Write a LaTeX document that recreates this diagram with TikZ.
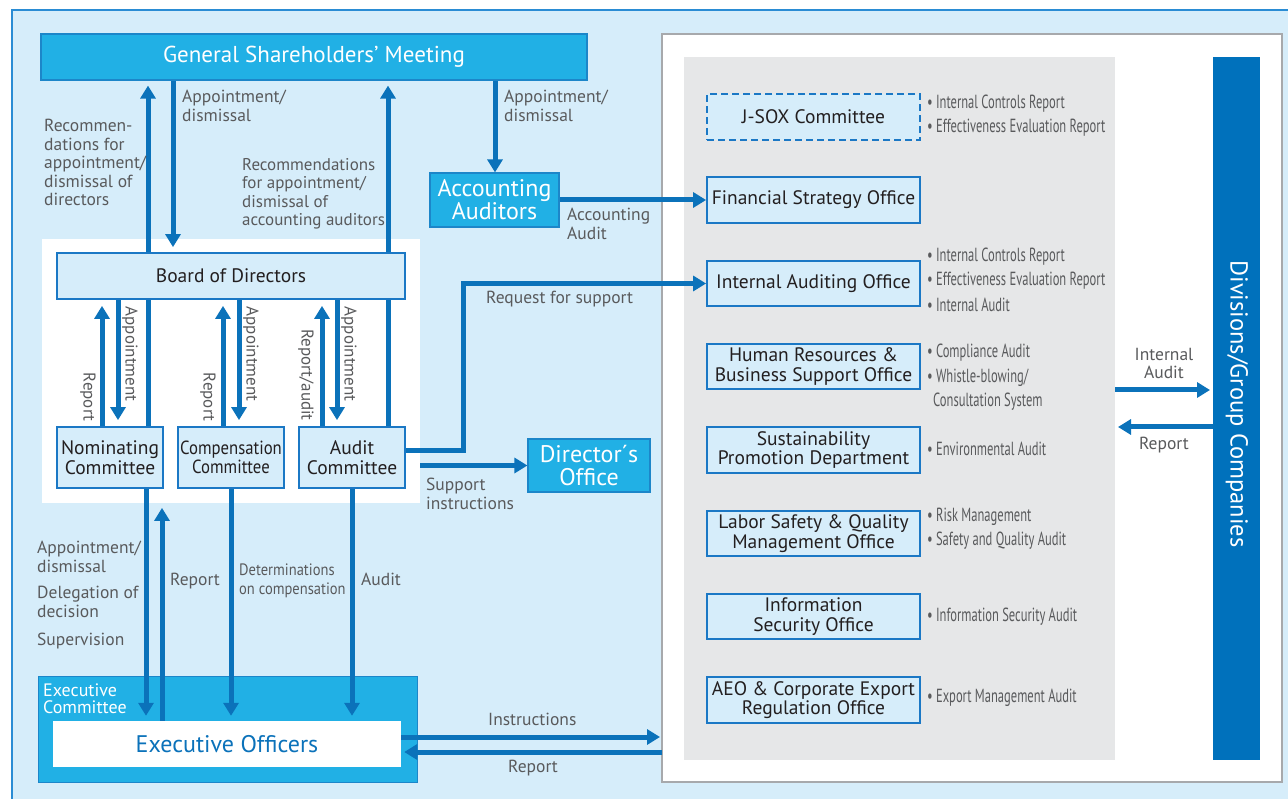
\documentclass[tikz,border=0pt]{standalone}
\usepackage{fontspec}
\setmainfont{PT Sans}
\newfontfamily\condfont[FakeStretch=0.66]{PT Sans}
\newfontfamily\semicond[FakeStretch=0.88]{PT Sans}
\usetikzlibrary{arrows.meta}
\definecolor{bgblue}{HTML}{D6EDFA}
\definecolor{frameblue}{HTML}{2A8CD4}
\definecolor{cyanblue}{HTML}{21B0E5}
\definecolor{cyanedge}{HTML}{1C86C9}
\definecolor{arrblue}{HTML}{0B72BA}
\definecolor{boxblue}{HTML}{1B78C5}
\definecolor{graypanel}{HTML}{E6E7E8}
\definecolor{paneledge}{HTML}{A7A9AC}
\definecolor{txtdark}{HTML}{231F20}
\definecolor{lblgray}{HTML}{595A5C}
\definecolor{divblue}{HTML}{0071BC}
\pgfdeclarelayer{bg}\pgfdeclarelayer{mid}\pgfsetlayers{bg,mid,main}
\tikzset{
  box/.style={draw=boxblue, line width=1.8pt, fill=bgblue, inner sep=0pt, align=center, text=txtdark, font=\fontsize{19.5}{19.5}\selectfont},
  cyanbox/.style={draw=cyanedge, line width=1.2pt, fill=cyanblue, inner sep=0pt, align=center, text=white, font=\fontsize{24}{23}\selectfont},
  arr/.style={draw=arrblue, line width=5pt, line join=miter, -{Triangle[width=15pt,length=13pt]}},
  lbl/.style={text=lblgray, font=\fontsize{17.5}{18.5}\selectfont, align=left, anchor=north west, inner sep=0pt},
  rlbl/.style={text=lblgray, font=\fontsize{17}{17}\selectfont, rotate=-90, inner sep=0pt},
  bul/.style={text=lblgray, font=\condfont\fontsize{19}{24}\selectfont, anchor=west, inner sep=0pt},
  panel/.style={inner sep=0pt, outer sep=0pt}
}
\begin{document}
\begin{tikzpicture}[x=1pt,y=-1pt]
\useasboundingbox (0,0) rectangle (1288,799);
\begin{pgfonlayer}{bg}
\begin{scope}
\clip (0,0) rectangle (1288,799);
\fill[bgblue] (12,10) rectangle (1300,810);
\draw[frameblue, line width=1.5pt] (12,810) -- (12,10) -- (1300,10);
\end{scope}
\node[panel, fill=white, minimum width=378pt, minimum height=264pt] (boardpanel) at (231,371) {};
\node[panel, fill=white, draw=paneledge, line width=1.5pt, minimum width=620pt, minimum height=748pt] (rp) at (972,408) {};
\node[panel, fill=graypanel, minimum width=431pt, minimum height=703pt] (gray) at (899.5,408.5) {};
\node[panel, fill=cyanblue, draw=cyanedge, line width=1pt, minimum width=379pt, minimum height=106pt] (excom) at (227.5,729) {};
\end{pgfonlayer}

% main boxes
\node[cyanbox, minimum width=546pt, minimum height=46pt, font=\fontsize{23}{22}\selectfont] (gsm) at (314,57) {General Shareholders’ Meeting};
\node[box, minimum width=348pt, minimum height=46pt] (board) at (231,276) {Board of Directors};
\node[box, minimum width=106pt, minimum height=61pt] (nom) at (110,457.5) {Nominating\\Committee};
\node[box, minimum width=106pt, minimum height=61pt, font=\semicond\fontsize{19}{19.5}\selectfont] (comp) at (231,457.5) {Compensation\\Committee};
\node[box, minimum width=106pt, minimum height=61pt] (aud) at (352,457.5) {Audit\\Committee};
\node[cyanbox, minimum width=129pt, minimum height=54pt] (acc) at (494.5,200) {Accounting\\Auditors};
\node[cyanbox, minimum width=122pt, minimum height=53pt] (dir) at (589,465.5) {Director´s\\Office};
\node[inner sep=0pt, fill=white, minimum width=348pt, minimum height=46pt, text=arrblue, font=\fontsize{24}{22}\selectfont] (exoff) at (227,744) {Executive Officers};
\node[text=white, font=\fontsize{18}{17}\selectfont, align=left, anchor=north west, inner sep=0pt] (exlbl) at (43,684) {Executive\\Committee};

\node[box, dashed, dash pattern=on 7pt off 4pt, minimum width=213pt, minimum height=46pt] (jsox) at (813.5,117) {J-SOX Committee};
\node[box, minimum width=213pt, minimum height=46pt] (fin) at (813.5,200) {Financial Strategy Office};
\node[box, minimum width=213pt, minimum height=45pt] (ia) at (813.5,283.5) {Internal Auditing Office};
\node[box, minimum width=213pt, minimum height=45pt] (hr) at (813.5,366.5) {Human Resources \&\\Business Support Office};
\node[box, minimum width=213pt, minimum height=46pt] (sus) at (813.5,450) {Sustainability\\Promotion Department};
\node[box, minimum width=213pt, minimum height=45pt] (lab) at (813.5,533.5) {Labor Safety \& Quality\\Management Office};
\node[box, minimum width=213pt, minimum height=45pt] (inf) at (813.5,616.5) {Information\\Security Office};
\node[box, minimum width=213pt, minimum height=46pt] (aeo) at (813.5,700) {AEO \& Corporate Export\\Regulation Office};
\node[panel, fill=divblue, minimum width=47pt, minimum height=703pt] (div) at (1236.5,408.5) {};
\node[rotate=-90, text=white, font=\fontsize{24.5}{24}\selectfont, inner sep=0pt] (divtxt) at (1237,404) {Divisions/Group Companies};

% bullets
\node[bul] (b1) at (927,104) {•\,Internal Controls Report};
\node[bul] (b2) at (927,128) {•\,Effectiveness Evaluation Report};
\node[bul] (b3) at (927,257) {•\,Internal Controls Report};
\node[bul] (b4) at (927,281) {•\,Effectiveness Evaluation Report};
\node[bul] (b5) at (927,305) {•\,Internal Audit};
\node[bul] (b6) at (927,353) {•\,Compliance Audit};
\node[bul] (b7) at (927,378) {•\,Whistle-blowing/};
\node[bul] (b8) at (933,402) {Consultation System};
\node[bul] (b9) at (927,449) {•\,Environmental Audit};
\node[bul] (b10) at (927,517) {•\,Risk Management};
\node[bul] (b11) at (927,541) {•\,Safety and Quality Audit};
\node[bul] (b12) at (927,617) {•\,Information Security Audit};
\node[bul] (b13) at (927,698) {•\,Export Management Audit};

% labels
\node[lbl] (l1) at (182,90) {Appointment/\\dismissal};
\node[lbl] (l2) at (44,119) {Recommen-\\dations for\\appointment/\\dismissal of\\directors};
\node[lbl, font=\fontsize{17}{18.5}\selectfont] (l3) at (242,158) {Recommendations\\for appointment/\\dismissal of\\accounting auditors};
\node[lbl] (l4) at (504,90) {Appointment/\\dismissal};
\node[lbl] (l5) at (567,208) {Accounting\\Audit};
\node[lbl] (l6) at (486,291) {Request for support};
\node[lbl] (l7) at (426,478) {Support\\instructions};
\node[lbl] (l8) at (37,541) {Appointment/\\dismissal};
\node[lbl] (l9) at (37,586) {Delegation of\\decision};
\node[lbl] (l10) at (37,633) {Supervision};
\node[lbl] (l11) at (170,573) {Report};
\node[lbl, font=\semicond\fontsize{16.5}{18.5}\selectfont] (l12) at (239,564) {Determinations\\on compensation};
\node[lbl] (l13) at (361,573) {Audit};
\node[lbl] (l14) at (488,713) {Instructions};
\node[lbl] (l15) at (508,760) {Report};
\node[lbl, anchor=north, align=center] (l16) at (1164,348) {Internal\\Audit};
\node[lbl, anchor=north] (l17) at (1164,437) {Report};
\node[rlbl] (r1) at (88,397) {Report};
\node[rlbl] (r2) at (130,354) {Appointment};
\node[rlbl] (r3) at (208,397) {Report};
\node[rlbl] (r4) at (251,354) {Appointment};
\node[rlbl] (r5) at (306,375) {Report/audit};
\node[rlbl] (r6) at (349,354) {Appointment};

% column coordinates
\coordinate (cA) at (148,0);
\coordinate (cB) at (173,0);
\coordinate (cC) at (388,0);
\coordinate (cD) at (495,0);
\coordinate (n1) at (102,0);
\coordinate (n2) at (118,0);
\coordinate (p1) at (223,0);
\coordinate (p2) at (239,0);
\coordinate (a1) at (322,0);
\coordinate (a2) at (337,0);
\coordinate (e1) at (146,0);
\coordinate (e2) at (162,0);
\coordinate (e3) at (231,0);
\coordinate (e4) at (352,0);
\coordinate (rq) at (463,0);
\coordinate (ya) at (0,390);
\coordinate (yr) at (0,427);
\coordinate (audout) at ([yshift=7pt]aud.east);
\coordinate (insout) at ([yshift=7pt]exoff.east);
\coordinate (repin) at ([yshift=-8pt]exoff.east);

\begin{pgfonlayer}{mid}
\draw[arr, shorten >=5pt] (cA |- nom.north) -- (cA |- gsm.south);
\draw[arr, shorten >=5pt] (cB |- gsm.south) -- (cB |- board.north);
\draw[arr, shorten >=5pt] (cC |- aud.north) -- (cC |- gsm.south);
\draw[arr] (cD |- gsm.south) -- (cD |- acc.north);
\draw[arr] (acc.east) -- (fin.west);
\draw[arr, shorten >=6pt] (n1 |- nom.north) -- (n1 |- board.south);
\draw[arr, shorten >=6pt] (n2 |- board.south) -- (n2 |- nom.north);
\draw[arr, shorten >=6pt] (p1 |- comp.north) -- (p1 |- board.south);
\draw[arr, shorten >=6pt] (p2 |- board.south) -- (p2 |- comp.north);
\draw[arr, shorten >=6pt] (a1 |- aud.north) -- (a1 |- board.south);
\draw[arr, shorten >=6pt] (a2 |- board.south) -- (a2 |- aud.north);
\draw[arr] (audout) -| (rq |- ia.west) -- (ia.west);
\draw[arr] (boardpanel.east |- dir.west) -- (dir.west);
\draw[arr, shorten >=5pt] (e1 |- nom.south) -- (e1 |- exoff.north);
\draw[arr, shorten >=19pt] (e2 |- exoff.north) -- (e2 |- nom.south);
\draw[arr, shorten >=5pt] (e3 |- comp.south) -- (e3 |- exoff.north);
\draw[arr, shorten >=5pt] (e4 |- aud.south) -- (e4 |- exoff.north);
\draw[arr, shorten >=2pt] (insout) -- (insout -| rp.west);
\draw[arr, shorten >=3pt] (repin -| rp.west) -- (repin);
\draw[arr, shorten >=3pt] (ya -| gray.east) -- (ya -| div.west);
\draw[arr, shorten >=3pt] (yr -| div.west) -- (yr -| gray.east);
\end{pgfonlayer}
\end{tikzpicture}
\end{document}
